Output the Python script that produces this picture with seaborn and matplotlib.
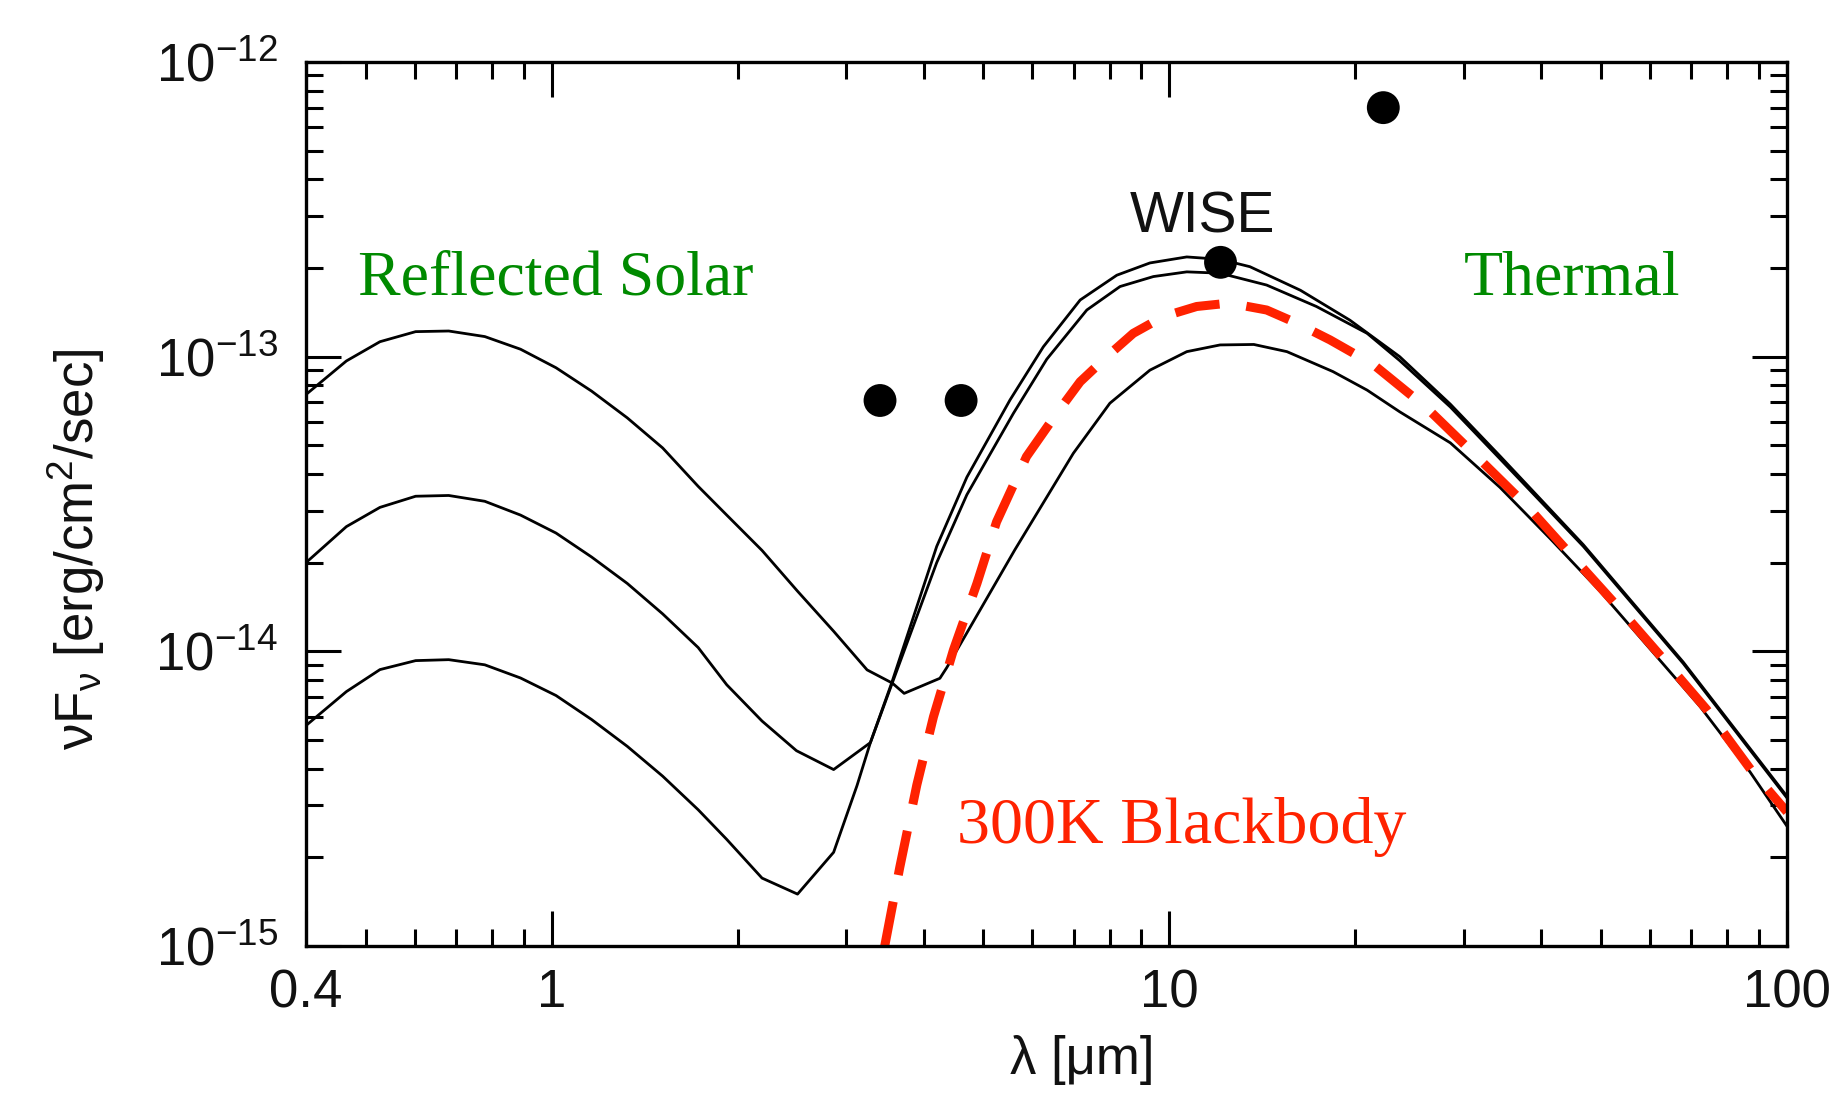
import matplotlib
matplotlib.use("Agg")
import matplotlib.pyplot as plt
import seaborn as sns
from matplotlib.ticker import FixedLocator, FixedFormatter, LogLocator, NullFormatter

# ---------------- data ----------------
# high-albedo model: strongest reflected, weakest thermal
wl_a = [0.4, 0.465, 0.527, 0.602, 0.681, 0.779, 0.890, 1.016, 1.16, 1.325, 1.512,
        1.726, 1.92, 2.19, 2.50, 2.86, 3.24, 3.56, 3.72, 4.25, 4.36, 4.66, 5.62,
        6.99, 8.01, 9.30, 10.67, 12.08, 13.7, 15.5, 18.4, 20.9, 23.6, 28.5, 34.3,
        41.3, 49.8, 60.0, 72.3, 87.1, 100.0]
flux_a = [7.44e-14, 9.67e-14, 1.124e-13, 1.216e-13, 1.222e-13, 1.17e-13, 1.06e-13,
          9.17e-14, 7.64e-14, 6.2e-14, 4.9e-14, 3.63e-14, 2.9e-14, 2.2e-14, 1.6e-14,
          1.17e-14, 8.65e-15, 7.8e-15, 7.2e-15, 8.1e-15, 8.8e-15, 1.12e-14, 2.21e-14,
          4.7e-14, 6.95e-14, 9.0e-14, 1.04e-13, 1.096e-13, 1.10e-13, 1.04e-13,
          8.9e-14, 7.7e-14, 6.5e-14, 5.1e-14, 3.6e-14, 2.42e-14, 1.6e-14,
          1.02e-14, 6.5e-15, 3.9e-15, 2.55e-15]

# intermediate-albedo model
wl_b = [0.4, 0.465, 0.527, 0.602, 0.681, 0.779, 0.890, 1.016, 1.16, 1.325, 1.512,
        1.726, 1.92, 2.19, 2.49, 2.86, 3.28, 3.55, 4.20, 4.70, 5.59, 6.33, 7.35,
        8.32, 9.42, 10.67, 12.08, 14.37, 17.3, 20.9, 23.6, 28.5, 34.3, 46.8, 67.9,
        100.0]
flux_b = [2.0e-14, 2.65e-14, 3.08e-14, 3.36e-14, 3.38e-14, 3.23e-14, 2.9e-14,
          2.52e-14, 2.09e-14, 1.70e-14, 1.34e-14, 1.03e-14, 7.7e-15, 5.8e-15,
          4.6e-15, 3.97e-15, 4.9e-15, 7.7e-15, 2.0e-14, 3.4e-14, 6.42e-14,
          9.8e-14, 1.44e-13, 1.73e-13, 1.87e-13, 1.94e-13, 1.92e-13, 1.75e-13,
          1.48e-13, 1.20e-13, 9.7e-14, 6.75e-14, 4.5e-14, 2.27e-14, 9.1e-15, 3.18e-15]

# low-albedo model: weakest reflected, strongest thermal
wl_c = [0.4, 0.465, 0.527, 0.602, 0.681, 0.779, 0.890, 1.016, 1.16, 1.325, 1.512,
        1.726, 1.92, 2.19, 2.50, 2.86, 3.12, 3.28, 3.55, 4.20, 4.70, 5.52, 6.25,
        7.17, 8.22, 9.30, 10.67, 12.08, 13.5, 16.3, 19.6, 23.6, 28.5, 34.3, 46.8,
        67.9, 100.0]
flux_c = [5.6e-15, 7.3e-15, 8.67e-15, 9.3e-15, 9.37e-15, 9.0e-15, 8.12e-15, 7.08e-15,
          5.87e-15, 4.76e-15, 3.77e-15, 2.9e-15, 2.3e-15, 1.70e-15, 1.50e-15,
          2.08e-15, 3.5e-15, 4.9e-15, 7.8e-15, 2.27e-14, 3.9e-14, 7.13e-14,
          1.08e-13, 1.557e-13, 1.89e-13, 2.08e-13, 2.18e-13, 2.14e-13, 2.02e-13,
          1.68e-13, 1.33e-13, 1.0e-13, 6.9e-14, 4.6e-14, 2.3e-14, 9.2e-15, 3.22e-15]

# 300 K blackbody
wl_bb = [3.46, 3.66, 3.90, 4.15, 4.47, 4.88, 5.25, 5.87, 6.57, 7.17, 7.92, 8.74,
         9.78, 11.07, 12.5, 14.37, 16.07, 18.2, 21.4, 26.1, 31.4, 37.9, 45.1, 53.0,
         63.1, 74.1, 87.5, 100.0]
flux_bb = [1.0e-15, 1.85e-15, 3.52e-15, 6.0e-15, 1.01e-14, 1.70e-14, 2.75e-14,
           4.58e-14, 6.42e-14, 8.22e-14, 1.0e-13, 1.20e-13, 1.368e-13, 1.48e-13,
           1.52e-13, 1.44e-13, 1.30e-13, 1.14e-13, 9.4e-14, 6.7e-14, 4.6e-14,
           3.12e-14, 2.08e-14, 1.43e-14, 9.4e-15, 6.35e-15, 3.95e-15, 2.85e-15]

# WISE photometry
wise_wl = [3.4, 4.6, 12.1, 22.2]
wise_flux = [7.1e-14, 7.1e-14, 2.09e-13, 7.0e-13]

x_ticks = [0.4, 1, 10, 100]
x_labels = ["0.4", "1", "10", "100"]
y_ticks = [1e-15, 1e-14, 1e-13, 1e-12]
y_labels = [r"$\mathregular{10^{-15}}$", r"$\mathregular{10^{-14}}$",
            r"$\mathregular{10^{-13}}$", r"$\mathregular{10^{-12}}$"]

# ---------------- style ----------------
sns.set_theme(style="ticks")
plt.rcParams["font.family"] = ["Liberation Sans", "DejaVu Sans"]
plt.rcParams["mathtext.fontset"] = "custom"
plt.rcParams["mathtext.rm"] = "Liberation Sans"
plt.rcParams["mathtext.it"] = "Liberation Sans:italic"
plt.rcParams["mathtext.bf"] = "Liberation Sans:bold"

fig = plt.figure(figsize=(18.31, 10.98), dpi=100)
fig.patch.set_facecolor("white")
ax = fig.add_axes([306 / 1831, 152 / 1098, 1481 / 1831, 884 / 1098])
ax.set_facecolor("white")
ax.set_xscale("log")
ax.set_yscale("log")

for wl, fl in [(wl_a, flux_a), (wl_b, flux_b), (wl_c, flux_c)]:
    sns.lineplot(x=wl, y=fl, ax=ax, color="black", linewidth=2.0,
                 sort=False, estimator=None)

sns.lineplot(x=wl_bb, y=flux_bb, ax=ax, color="#ff2200", linewidth=6.5,
             linestyle=(0, (5.0, 3.0)), sort=False, estimator=None)

sns.scatterplot(x=wise_wl, y=wise_flux, ax=ax, color="black", s=560,
                edgecolor="none", zorder=5)

ax.set_xlim(0.4, 100)
ax.set_ylim(1e-15, 1e-12)

ax.xaxis.set_major_locator(FixedLocator(x_ticks))
ax.xaxis.set_major_formatter(FixedFormatter(x_labels))
ax.xaxis.set_minor_locator(LogLocator(base=10, subs=range(2, 10), numticks=20))
ax.xaxis.set_minor_formatter(NullFormatter())
ax.yaxis.set_major_locator(FixedLocator(y_ticks))
ax.yaxis.set_major_formatter(FixedFormatter(y_labels))
ax.yaxis.set_minor_locator(LogLocator(base=10, subs=range(2, 10), numticks=20))
ax.yaxis.set_minor_formatter(NullFormatter())

ax.tick_params(which="both", direction="in", top=True, right=True,
               color="black", width=2.2)
ax.tick_params(which="major", length=25, labelsize=38, labelcolor="#111111")
ax.tick_params(which="minor", length=12)
ax.tick_params(axis="x", which="major", pad=16)
ax.tick_params(axis="y", which="major", pad=20)
for sp in ax.spines.values():
    sp.set_visible(True)
    sp.set_color("black")
    sp.set_linewidth(2.4)

ax.set_xlabel("λ [μm]", fontsize=38, color="#111111", ha="center", va="center")
ax.xaxis.set_label_coords(0.524, -0.129)
ax.set_ylabel(r"νF$_{\mathregular{ν}}$ [erg/cm$^{\mathregular{2}}$/sec]",
              fontsize=38, color="#111111", ha="center", va="center")
ax.yaxis.set_label_coords(-0.155, 0.449)

serif = ["Liberation Serif", "DejaVu Serif"]
ax.text(0.1688, 0.7372, "Reflected Solar", transform=ax.transAxes, ha="center",
        va="baseline", fontsize=46, color="#008a00", family=serif)
ax.text(0.855, 0.7372, "Thermal", transform=ax.transAxes, ha="center",
        va="baseline", fontsize=46, color="#008a00", family=serif)
ax.text(0.591, 0.1164, "300K Blackbody", transform=ax.transAxes, ha="center",
        va="baseline", fontsize=47.5, color="#ff2200", family=serif)
ax.text(0.6051, 0.8072, "WISE", transform=ax.transAxes, ha="center",
        va="baseline", fontsize=41, color="#111111")

fig.savefig("out.png", dpi=100, facecolor="white")
